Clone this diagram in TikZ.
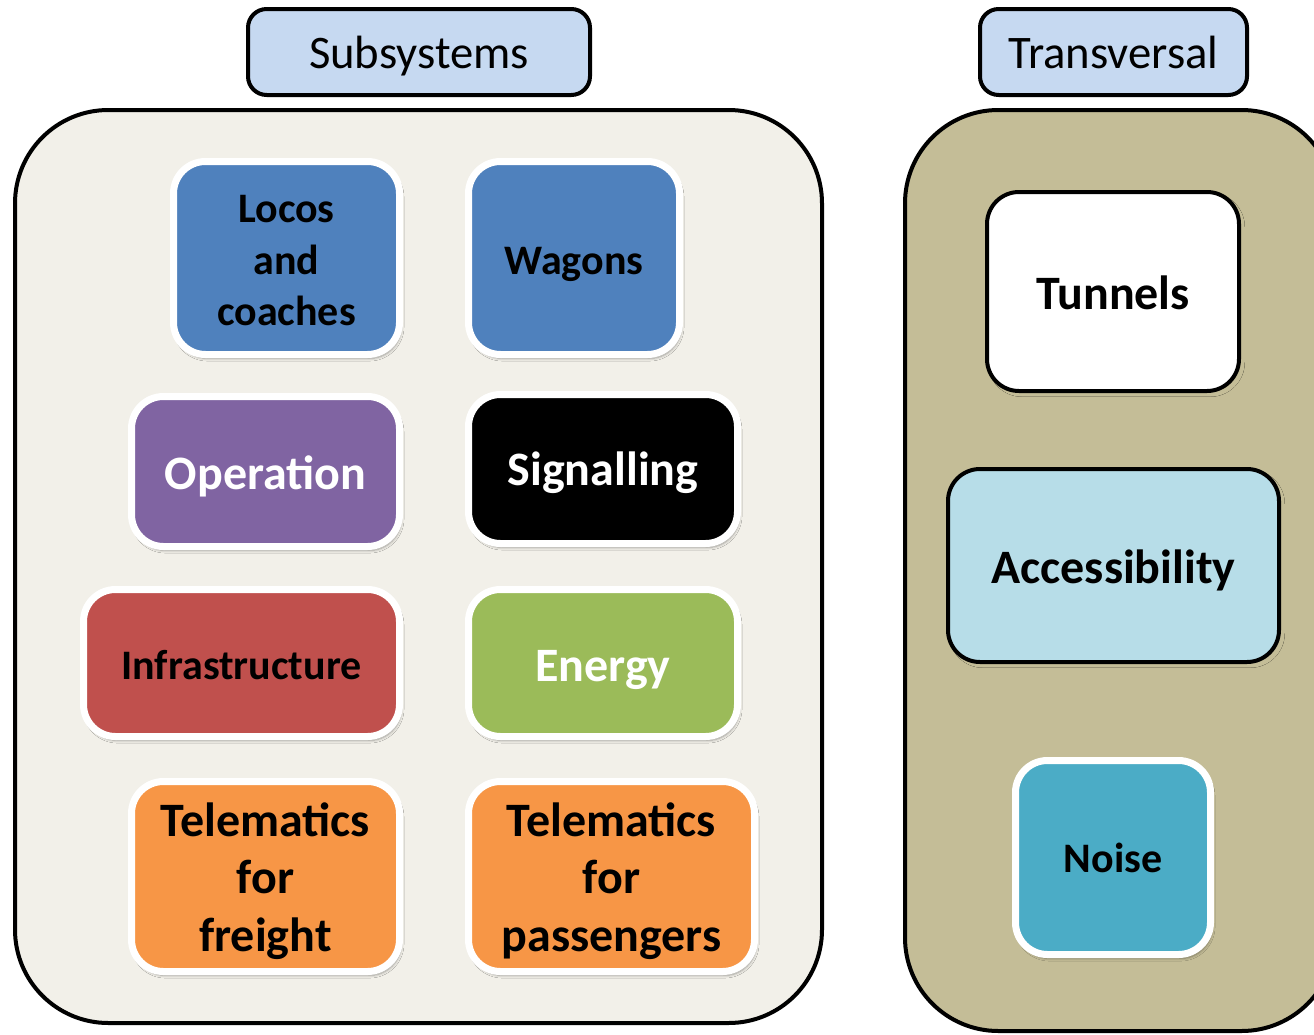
\documentclass[tikz,border=0pt]{standalone}
\usepackage{fontspec}
\setmainfont{Carlito}
\usetikzlibrary{shadows.blur}
\definecolor{lblue}{HTML}{C6D9F1}
\definecolor{cream}{HTML}{F2F0E9}
\definecolor{khaki}{HTML}{C4BD97}
\definecolor{cblue}{HTML}{4F81BD}
\definecolor{cpurple}{HTML}{8064A2}
\definecolor{cred}{HTML}{C0504D}
\definecolor{cgreen}{HTML}{9BBB59}
\definecolor{corange}{HTML}{F79646}
\definecolor{caqua}{HTML}{B7DDE8}
\definecolor{cteal}{HTML}{4BACC6}
% lowers the text of a node by half the given amount
\newcommand\txdn[1]{\raisebox{#1}{\vphantom{Tl}}}
\tikzset{
  tile/.style 2 args={rectangle, rounded corners=24pt, inner sep=0pt, align=center,
    minimum width=#1*0.75pt, minimum height=#2*0.75pt, line width=5.25pt, draw=white,
    blur shadow={shadow xshift=1.5pt, shadow yshift=-3pt, shadow blur steps=6, shadow opacity=35}},
  bigf/.style={font=\fontsize{36}{43}\bfseries\selectfont},
  smallf/.style={font=\fontsize{31.5}{38.5}\bfseries\selectfont},
  label/.style={rectangle, rounded corners=14pt, draw=black, line width=3pt, fill=lblue,
    font=\fontsize{35}{42}\selectfont, inner sep=0pt},
  container/.style={rounded corners=70pt, draw=black, line width=3pt},
}
\begin{document}
\begin{tikzpicture}[x=0.75pt, y=-0.75pt]
\useasboundingbox (0,0) rectangle (1314,1035);
\clip (0,0) rectangle (1314,1035);
\fill[white] (0,0) rectangle (1314,1035);
% containers
\draw[container, fill=cream] (15,110) rectangle (822,1023);
\draw[container, fill=khaki] (905,110) rectangle (1335,1031);
% labels
\node[label, minimum width=342*0.75pt, minimum height=86*0.75pt] (sub) at (419,52) {\txdn{6pt}Subsystems};
\node[label, minimum width=267*0.75pt, minimum height=86*0.75pt] (trans) at (1113.5,52) {Transversal};
% subsystem tiles
\node[tile={226}{193}, fill=cblue, smallf] (loco) at (286.5,258) {\txdn{2.25pt}Locos\\and\\coaches};
\node[tile={211}{193}, fill=cblue, smallf] (wagons) at (574,258) {\txdn{7.5pt}Wagons};
\node[tile={268}{150}, fill=cpurple, bigf, text=white] (oper) at (265.5,471.5) {\txdn{7.5pt}Operation};
\node[tile={269}{149}, fill=black, bigf, text=white] (sig) at (603,469) {\txdn{6pt}Signalling};
\node[tile={316}{147}, fill=cred, smallf] (infra) at (241.5,663) {\txdn{3pt}Infrastructure};
\node[tile={269}{147}, fill=cgreen, bigf, text=white] (energy) at (603,663) {\txdn{9pt}Energy};
\node[tile={268}{190}, fill=corange, bigf] (telf) at (265.5,876.5) {\txdn{6.75pt}Telematics\\for\\freight};
\node[tile={286}{190}, fill=corange, bigf] (telp) at (611.5,876.5) {\txdn{6.75pt}Telematics\\for\\passengers};
% transversal tiles
\node[tile={252}{199}, fill=white, draw=black, line width=3pt, bigf, blur shadow={shadow opacity=0}] (tunnels) at (1113,291.5) {\txdn{1.5pt}Tunnels};
\node[tile={331}{193}, fill=caqua, draw=black, line width=3pt, bigf, blur shadow={shadow opacity=0}] (access) at (1113.5,565.5) {\txdn{7.5pt}Accessibility};
\node[tile={195}{194}, fill=cteal, smallf] (noise) at (1113,857.5) {Noise};
\end{tikzpicture}
\end{document}
